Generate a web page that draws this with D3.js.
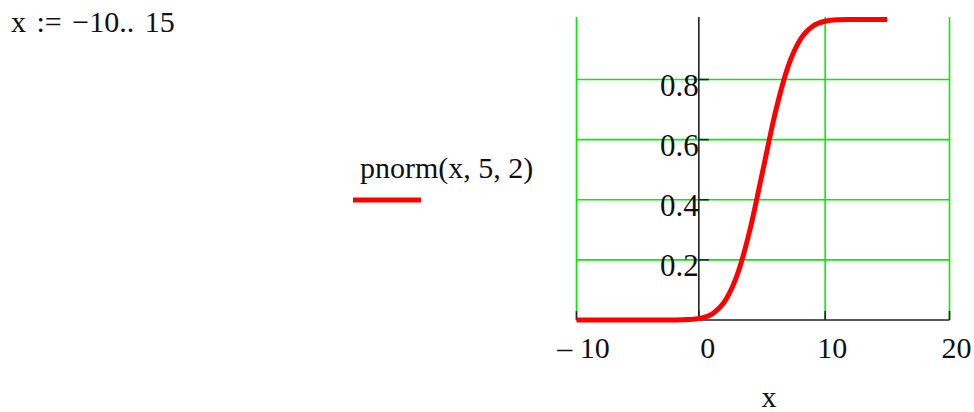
<!DOCTYPE html>
<html>
<head>
<meta charset="utf-8">
<script src="https://cdn.jsdelivr.net/npm/d3@7"></script>
<style>
  body { margin: 0; background: #fff; }
  svg text { font-family: "Liberation Serif", "Times New Roman", serif; fill: #111; }
</style>
</head>
<body>
<script>
// x := -10 .. 15, values of pnorm(x, 5, 2)
var xs = [-10, -9, -8, -7, -6, -5, -4, -3, -2, -1, 0, 1, 2, 3, 4, 5, 6, 7, 8, 9, 10, 11, 12, 13, 14, 15];
var pvals = [0, 0, 0, 0, 0, 0, 0, 0.00003, 0.0002, 0.0013, 0.0062, 0.0228, 0.0668, 0.1587, 0.3085, 0.5,
             0.6915, 0.8413, 0.9332, 0.9772, 0.9938, 0.9987, 0.9998, 1, 1, 1];
var xTicks = [-10, 0, 10, 20];
var yTicks = [0.2, 0.4, 0.6, 0.8];
var xTickLabels = ["\u2013 10", "0", "10", "20"];

var width = 974, height = 412;
var plot = {left: 576.5, right: 949.5, top: 17, bottom: 320};
var yMax = 1.008;

var x = d3.scaleLinear().domain([-10, 20]).range([plot.left, plot.right]);
var y = d3.scaleLinear().domain([0, yMax]).range([plot.bottom, plot.top]);

var svg = d3.select("body").append("svg")
	.attr("width", width)
	.attr("height", height);

// range definition at top left
svg.append("text")
	.attr("x", 11)
	.attr("y", 32)
	.style("font-size", "30px")
	.style("word-spacing", "3px")
	.text("x := \u221210.. 15");

// green grid
var grid = svg.append("g").attr("stroke", "#00f000").attr("stroke-width", 1.6);
grid.selectAll(".hgrid")
	.data(yTicks)
	.enter().append("line")
		.attr("x1", plot.left).attr("x2", plot.right)
		.attr("y1", function(d) { return y(d); })
		.attr("y2", function(d) { return y(d); });
grid.selectAll(".vgrid")
	.data(xTicks.filter(function(d) { return d !== 0; }))
	.enter().append("line")
		.attr("x1", function(d) { return x(d); })
		.attr("x2", function(d) { return x(d); })
		.attr("y1", plot.top).attr("y2", plot.bottom);

// axes (x axis along y = 0, y axis along x = 0)
var axes = svg.append("g").attr("stroke", "#222").attr("stroke-width", 1.6);
axes.append("line")
	.attr("x1", plot.left).attr("x2", plot.right)
	.attr("y1", y(0)).attr("y2", y(0));
axes.append("line")
	.attr("x1", x(0) - 2).attr("x2", x(0) - 2)
	.attr("y1", plot.top).attr("y2", plot.bottom);
axes.selectAll(".xtick")
	.data(xTicks)
	.enter().append("line")
		.attr("x1", function(d) { return x(d) - (d === 0 ? 2 : 0); })
		.attr("x2", function(d) { return x(d) - (d === 0 ? 2 : 0); })
		.attr("y1", y(0)).attr("y2", y(0) - 9);
axes.selectAll(".ytick")
	.data(yTicks)
	.enter().append("line")
		.attr("x1", x(0) - 2).attr("x2", x(0) + 8)
		.attr("y1", function(d) { return y(d); })
		.attr("y2", function(d) { return y(d); });

// tick labels
svg.selectAll(".xlab")
	.data(xTicks)
	.enter().append("text")
		.attr("x", function(d) { return x(d) + 7; })
		.attr("y", 358)
		.attr("text-anchor", "middle")
		.style("font-size", "30px")
		.text(function(d, i) { return xTickLabels[i]; });
svg.selectAll(".ylab")
	.data(yTicks)
	.enter().append("text")
		.attr("x", x(0) - 2)
		.attr("y", function(d) { return y(d) + 16; })
		.attr("text-anchor", "end")
		.style("font-size", "31px")
		.text(function(d) { return d3.format(".1f")(d); });

svg.append("text")
	.attr("x", (plot.left + plot.right) / 2 + 6)
	.attr("y", 407)
	.attr("text-anchor", "middle")
	.style("font-size", "30px")
	.text("x");

// legend
svg.append("text")
	.attr("x", 360)
	.attr("y", 178)
	.style("font-size", "30px")
	.text("pnorm(x, 5, 2)");
svg.append("line")
	.attr("x1", 353).attr("x2", 421)
	.attr("y1", 200).attr("y2", 200)
	.attr("stroke", "#ff0000")
	.attr("stroke-width", 5);

// curve
var line = d3.line()
	.x(function(d, i) { return x(xs[i]); })
	.y(function(d) { return y(d); })
	.curve(d3.curveMonotoneX);

svg.append("path")
	.datum(pvals)
	.attr("fill", "none")
	.attr("stroke", "#ff0000")
	.attr("stroke-width", 5)
	.attr("d", line);
</script>
</body>
</html>
